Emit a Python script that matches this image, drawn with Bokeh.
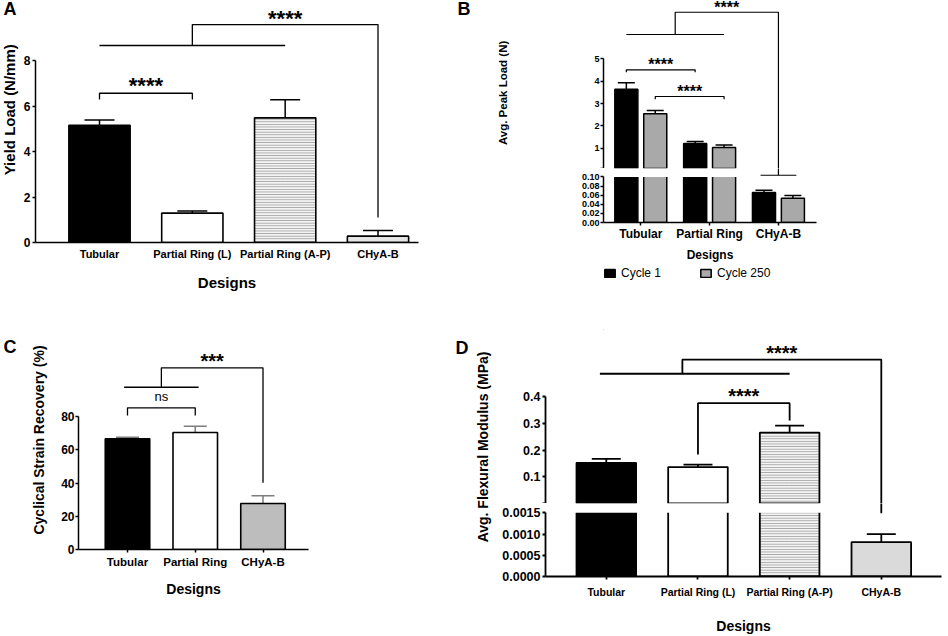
import math
from bokeh.plotting import figure
from bokeh.models import (ColumnDataSource, Whisker, TeeHead, Label, FixedTicker,
                          Range1d, Legend, LegendItem, PrintfTickFormatter)
from bokeh.layouts import row, column
from bokeh.embed import file_html
from bokeh.resources import INLINE
from bokeh.core.properties import field

FONT = "Liberation Sans"

# ---------------- data ----------------
a_designs = ["Tubular", "Partial Ring (L)", "Partial Ring (A-P)", "CHyA-B"]
a_yield_load = [5.15, 1.29, 5.48, 0.28]
a_yield_err = [0.24, 0.10, 0.79, 0.25]
a_yticks = [0, 2, 4, 6, 8]

b_designs = ["Tubular", "Partial Ring", "CHyA-B"]
b_series = ["Cycle 1", "Cycle 250"]
b_cycle1 = [3.64, 1.22, 0.0655]
b_cycle1_err = [0.29, 0.09, 0.005]
b_cycle250 = [2.55, 1.04, 0.053]
b_cycle250_err = [0.14, 0.11, 0.006]
b_upper_ticks = [0.1, 1, 2, 3, 4, 5]
b_lower_ticks = [0.0, 0.02, 0.04, 0.06, 0.08, 0.10]

c_designs = ["Tubular", "Partial Ring", "CHyA-B"]
c_recovery = [66.7, 70.5, 27.7]
c_recovery_err = [1.0, 3.8, 4.7]
c_yticks = [0, 20, 40, 60, 80]

d_designs = ["Tubular", "Partial Ring (L)", "Partial Ring (A-P)", "CHyA-B"]
d_modulus = [0.152, 0.136, 0.265, 0.00081]
d_modulus_err = [0.015, 0.009, 0.026, 0.00019]
d_upper_ticks = [0.0, 0.1, 0.2, 0.3, 0.4]
d_lower_ticks = [0.0, 0.0005, 0.0010, 0.0015]

# styles
A_FILL = ["black", "white", "#f3f3f3", "#e4e4e4"]
A_HATCH = [" ", " ", "horizontal_line", " "]
B_FILL = ["black", "#a9a9a9"]
C_FILL = ["black", "white", "#bdbdbd"]
D_FILL = ["black", "white", "#f3f3f3", "#dadada"]
D_HATCH = [" ", " ", "horizontal_line", " "]
HATCH = dict(hatch_color="#8f8f8f", hatch_scale=2.6, hatch_weight=0.8)


def lin(p0, v0, p1, v1):
    k = (v1 - v0) / (p1 - p0)
    return lambda p: v0 + (p - p0) * k


def make(fig_x, fig_y, w, h, frame, fx, fy, xaxis=True):
    l, r, t, b = frame
    p = figure(width=w, height=h, x_range=Range1d(fx(l), fx(r)), y_range=Range1d(fy(b), fy(t)),
               output_backend="svg", toolbar_location=None, tools="", title=None,
               min_border_left=int(round(l - fig_x)), min_border_right=int(round(fig_x + w - r)),
               min_border_top=int(round(t - fig_y)), min_border_bottom=int(round(fig_y + h - b)),
               x_axis_location="below" if xaxis else None)
    p.grid.grid_line_color = None
    p.outline_line_color = None
    p.background_fill_color = "white"
    p.border_fill_color = "white"
    return p


def blank(w, h, **kw):
    args = dict(min_border=0)
    args.update(kw)
    p = figure(width=w, height=h, x_range=Range1d(0, w), y_range=Range1d(0, h),
               output_backend="svg", toolbar_location=None, tools="", title=None,
               x_axis_location=None, y_axis_location=None, **args)
    p.grid.grid_line_color = None
    p.outline_line_color = None
    p.border_fill_color = "white"
    return p


def style_y(ax, ticks, bounds, size, tick_out=3, standoff=2, fmt=None, overrides=None, lw=1.5):
    ax.ticker = FixedTicker(ticks=ticks)
    ax.bounds = bounds
    ax.major_tick_out = tick_out
    ax.major_tick_in = 0
    ax.minor_tick_out = 0
    ax.minor_tick_in = 0
    ax.major_label_standoff = standoff
    ax.major_label_text_font = FONT
    ax.major_label_text_font_style = "bold"
    ax.major_label_text_font_size = f"{size}px"
    ax.major_label_text_color = "black"
    ax.axis_line_width = lw
    ax.major_tick_line_width = lw
    ax.axis_line_color = "black"
    if fmt:
        ax.formatter = PrintfTickFormatter(format=fmt)
    if overrides:
        ax.major_label_overrides = overrides


def style_x(ax, labels, size, tick_out, standoff, lab_size, lab_standoff, lw=1.5):
    ax.ticker = FixedTicker(ticks=list(range(1, len(labels) + 1)))
    ax.major_label_overrides = {i + 1: t for i, t in enumerate(labels)}
    ax.major_tick_out = tick_out
    ax.major_tick_in = 0
    ax.minor_tick_out = 0
    ax.minor_tick_in = 0
    ax.major_label_standoff = standoff
    ax.major_label_text_font = FONT
    ax.major_label_text_font_style = "bold"
    ax.major_label_text_font_size = f"{size}px"
    ax.major_label_text_color = "black"
    ax.axis_line_width = lw
    ax.major_tick_line_width = lw
    ax.axis_label = "Designs"
    ax.axis_label_text_font = FONT
    ax.axis_label_text_font_style = "bold"
    ax.axis_label_text_font_size = f"{lab_size}px"
    ax.axis_label_text_color = "black"
    ax.axis_label_standoff = lab_standoff


def add_err(p, xs, lows, highs, cap, color="black", lw=1.5):
    if not xs:
        return
    s = ColumnDataSource(dict(x=xs, lo=lows, hi=highs))
    p.add_layout(Whisker(source=s, base="x", lower="lo", upper="hi", line_color=color,
                         line_width=lw,
                         upper_head=TeeHead(size=cap, line_color=color, line_width=lw),
                         lower_head=None))


def line(p, xs, ys, lw):
    p.line(xs, ys, line_color="black", line_width=lw)


def label(p, x, y, text, size, bold=True, align="center", baseline="middle", angle=0.0):
    p.add_layout(Label(x=x, y=y, text=text, text_font=FONT, text_font_size=f"{size}px",
                       text_font_style="bold" if bold else "normal", text_align=align,
                       text_baseline=baseline, angle=angle, text_color="black"))


# ================= Panel A =================
LAW, TOPH = 20, 330
pLA = blank(LAW, TOPH)
label(pLA, 3, TOPH - 11, "A", 18, align="left")
label(pLA, 9, TOPH - 149, "Yield Load (N/mm)", 15, angle=math.pi / 2)

fxA = lin(99, 1, 377.5, 4)
fyA = lin(242, 0, 60, 8)
pA = make(LAW, 0, 448 - LAW, TOPH, (35, 418, 0, 242), fxA, fyA)
xa = list(range(1, len(a_designs) + 1))
srcA = ColumnDataSource(dict(x=xa, top=a_yield_load, fill=A_FILL, hatch=A_HATCH))
pA.vbar(x="x", top="top", bottom=0, width=0.66, source=srcA, fill_color="fill",
        hatch_pattern=field("hatch"), line_color="black", line_width=1.6, **HATCH)
add_err(pA, xa, a_yield_load, [v + e for v, e in zip(a_yield_load, a_yield_err)], 30)
style_y(pA.yaxis[0], a_yticks, (0, 8), 12)
style_x(pA.xaxis[0], a_designs, 11, 0, 5, 15, 11)
line(pA, [1, 1, 2, 2], [6.29, 6.56, 6.56, 6.29], 1.3)
label(pA, 1.5, 6.90, "****", 22)
line(pA, [1, 3], [8.66, 8.66], 1.3)
line(pA, [2, 2, 4, 4], [8.66, 9.58, 9.58, 1.10], 1.3)
label(pA, 3, 9.86, "****", 22)

# ================= Panel B =================
BX0, LBW = 448, 62
pLB = blank(LBW, TOPH)
label(pLB, 457 - BX0, TOPH - 11, "B", 18, align="left")
label(pLB, 502 - BX0, TOPH - 126, "Avg. Peak Load (N)", 11.5, angle=math.pi / 2)

fxB = lin(587.5, 1, 766.5, 3)
fyBu = lin(168, 0.1, 58.3, 5)
fyBl = lin(224, 0, 176.7, 0.10)
bx0 = BX0 + LBW
bw_fig = 948 - bx0
pBu = make(bx0, 0, bw_fig, 168, (539, 816, 0, 168), fxB, fyBu, xaxis=False)
pBl = make(bx0, 168, bw_fig, 96, (539, 816, 168, 224), fxB, fyBl)
xb = list(range(1, len(b_designs) + 1))
off, bw = 0.21, 0.335
seg_top = b_lower_ticks[-1]
for p, bottom in ((pBu, pBu.y_range.start - 1), (pBl, 0)):
    for k, (vals, errs, sgn) in enumerate(((b_cycle1, b_cycle1_err, -1),
                                           (b_cycle250, b_cycle250_err, 1))):
        xs = [x + sgn * off for x in xb]
        if p is pBu:
            sel = [i for i, v in enumerate(vals) if v >= seg_top]
        else:
            sel = list(range(len(vals)))
        p.vbar(x=[xs[i] for i in sel], top=[vals[i] for i in sel], bottom=bottom, width=bw,
               fill_color=B_FILL[k], line_color="black", line_width=1.5)
        if p is pBu:
            esel = sel
        else:
            esel = [i for i, v in enumerate(vals) if v < seg_top]
        add_err(p, [xs[i] for i in esel], [vals[i] for i in esel],
                [vals[i] + errs[i] for i in esel], 17)
# mask the gap above the lower segment
pBl.quad(left=pBl.x_range.start, right=pBl.x_range.end, bottom=seg_top,
         top=pBl.y_range.end + 1, fill_color="white", line_color=None)
style_y(pBu.yaxis[0], b_upper_ticks, (0.1, 5), 9, tick_out=3, standoff=1,
        overrides={0.1: ""})
style_y(pBl.yaxis[0], b_lower_ticks, (0, 0.10), 9, tick_out=3, standoff=1, fmt="%.2f")
style_x(pBl.xaxis[0], b_designs, 12, 3, 1, 12, 4)
# brackets
line(pBu, [0.79, 0.79, 1.79, 1.79], [4.40, 4.508, 4.508, 4.40], 1.2)
label(pBu, 1.29, 4.736, "****", 16)
line(pBu, [1.21, 1.21, 2.21, 2.21], [3.195, 3.316, 3.316, 3.195], 1.2)
label(pBu, 1.71, 3.557, "****", 16)
line(pBu, [0.79, 2.21], [6.085, 6.085], 1.2)
line(pBu, [1.5, 1.5, 3, 3], [6.085, 7.08, 7.08, pBu.y_range.start - 1], 1.2)
label(pBu, 2.25, 7.295, "****", 16)
line(pBl, [3, 3], [pBl.y_range.end + 1, 0.1036], 1.2)
line(pBl, [2.74, 3.26], [0.1036, 0.1036], 1.2)

# legend strip under panel B (swatches use a point outside the strip's range)
leg_y0 = 168 + 96
pBleg = blank(bw_fig, TOPH - leg_y0, min_border_left=603 - bx0, min_border_top=2)
r1 = pBleg.vbar(x=[-1000], top=[-1000], width=1, fill_color=B_FILL[0], line_color="black",
                line_width=1.5)
r2 = pBleg.vbar(x=[-1000], top=[-1000], width=1, fill_color=B_FILL[1], line_color="black",
                line_width=1.5)
legend = Legend(items=[LegendItem(label=b_series[0], renderers=[r1]),
                       LegendItem(label=b_series[1], renderers=[r2])],
                orientation="horizontal", spacing=38, glyph_width=13, glyph_height=10,
                label_text_font=FONT, label_text_font_size="12px", label_text_color="black",
                border_line_color=None, background_fill_alpha=0, padding=0, margin=0,
                label_standoff=5, location="top_left")
pBleg.add_layout(legend)

# ================= Panel C =================
BOTH = 636 - TOPH
LCW = 50
pLC = blank(LCW, BOTH)
label(pLC, 3, BOTH - (353 - TOPH), "C", 18, align="left")
label(pLC, 38, BOTH - (483 - TOPH), "Cyclical Strain Recovery (%)", 14, angle=math.pi / 2)

fxC = lin(127, 1, 262.5, 3)
fyC = lin(549, 0, 416.3, 80)
pC = make(LCW, TOPH, 448 - LCW, BOTH, (78, 308, TOPH, 549), fxC, fyC)
xc = list(range(1, len(c_designs) + 1))
srcC = ColumnDataSource(dict(x=xc, top=c_recovery, fill=C_FILL))
pC.vbar(x="x", top="top", bottom=0, width=0.657, source=srcC, fill_color="fill",
        line_color="black", line_width=1.6)
add_err(pC, xc, c_recovery, [v + e for v, e in zip(c_recovery, c_recovery_err)], 23,
        color="#7d7d7d")
style_y(pC.yaxis[0], c_yticks, (0, 80), 12, tick_out=3, standoff=1)
style_x(pC.xaxis[0], c_designs, 11.5, 3, 3, 14, 10)
line(pC, [1, 1, 2, 2], [80.8, 85.4, 85.4, 80.8], 1.3)
label(pC, 1.5, 92.2, "ns", 13, bold=False)
line(pC, [0.95, 2.05], [97.8, 97.8], 1.3)
line(pC, [1.5, 1.5, 3, 3], [97.8, 109.5, 109.5, 40.2], 1.3)
label(pC, 2.25, 113.7, "***", 20)

# ================= Panel D =================
DX0, LDW = 448, 50
pLD = blank(LDW, BOTH)
label(pLD, 455 - DX0, BOTH - (355 - TOPH), "D", 18, align="left")
label(pLD, 482 - DX0, BOTH - (490 - TOPH), "Avg. Flexural  Modulus (MPa)", 14,
      angle=math.pi / 2)

fxD = lin(605.8, 1, 880.8, 4)
fyDu = lin(503, 0, 396, 0.4)
fyDl = lin(579, 0, 512.7, 0.0015)
dx0 = DX0 + LDW
dw_fig = 948 - dx0
pDu = make(dx0, TOPH, dw_fig, 503 - TOPH, (545, 941, TOPH, 503), fxD, fyDu, xaxis=False)
pDl = make(dx0, 503, dw_fig, 636 - 503, (545, 941, 503, 579), fxD, fyDl)
xd = list(range(1, len(d_designs) + 1))
dseg_top = d_lower_ticks[-1]
for p, bottom in ((pDu, pDu.y_range.start - 1), (pDl, 0)):
    if p is pDu:
        sel = [i for i, v in enumerate(d_modulus) if v >= dseg_top]
    else:
        sel = list(range(len(d_modulus)))
    srcD = ColumnDataSource(dict(x=[xd[i] for i in sel], top=[d_modulus[i] for i in sel],
                                 fill=[D_FILL[i] for i in sel], hatch=[D_HATCH[i] for i in sel]))
    p.vbar(x="x", top="top", bottom=bottom, width=0.65, source=srcD, fill_color="fill",
           hatch_pattern=field("hatch"), line_color="black", line_width=1.8, **HATCH)
    if p is pDu:
        esel = sel
    else:
        esel = [i for i, v in enumerate(d_modulus) if v < dseg_top]
    add_err(p, [xd[i] for i in esel], [d_modulus[i] for i in esel],
            [d_modulus[i] + d_modulus_err[i] for i in esel], 29, lw=1.8)
pDl.quad(left=pDl.x_range.start, right=pDl.x_range.end, bottom=dseg_top,
         top=pDl.y_range.end + 1, fill_color="white", line_color=None)
style_y(pDu.yaxis[0], d_upper_ticks, (0, 0.4), 12.5, fmt="%.1f", overrides={0: ""}, lw=1.8)
style_y(pDl.yaxis[0], d_lower_ticks, (0, 0.0015), 12.5, fmt="%.4f", lw=1.8)
style_x(pDl.xaxis[0], d_designs, 10.5, 3, 6, 14, 17, lw=1.8)
line(pDu, [2, 2, 3, 3], [0.183, 0.375, 0.375, 0.310], 1.8)
label(pDu, 2.5, 0.4011, "****", 20)
line(pDu, [0.93, 3.0], [0.485, 0.485], 1.8)
line(pDu, [1.83, 1.83, 4, 4], [0.485, 0.538, 0.538, pDu.y_range.start - 1], 1.8)
label(pDu, 2.915, 0.563, "****", 20)
line(pDl, [4, 4], [pDl.y_range.end + 1, 0.00149], 1.8)

layout = column(row(pLA, pA, pLB, column(pBu, pBl, pBleg)),
                row(pLC, pC, pLD, column(pDu, pDl)))

open("out.html", "w").write(file_html(layout, INLINE))
